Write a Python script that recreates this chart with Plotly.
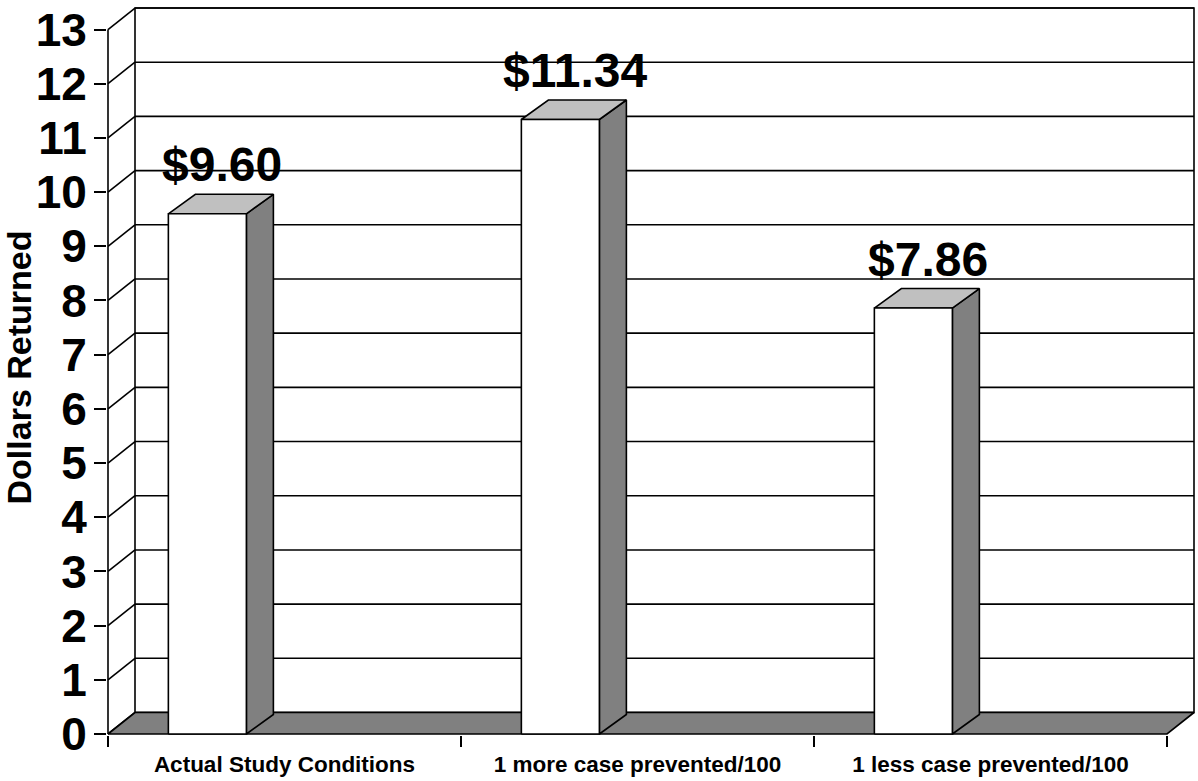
import plotly.graph_objects as go

categories = ["Actual Study Conditions", "1 more case prevented/100", "1 less case prevented/100"]
values = [9.60, 11.34, 7.86]
y_ticks = list(range(0, 14))
y_title = "Dollars Returned"

# --- geometry / style (pixels -> data units) ---
W, H = 1198, 781
CAT_PX = 353.0           # px per category
UNIT_PX = 54.19          # px per dollar
FRONT_X_PX = 108         # front axis pixel
FRONT_Y_PX = 734         # value 0 pixel
DX = 27 / CAT_PX         # wall depth offset (x)
DY = 21.5 / UNIT_PX      # wall depth offset (y)
BDX = 27 / CAT_PX        # bar depth offset
BDY = 19.5 / UNIT_PX
BAR_L = 0.171
BAR_W = 0.221
YMAX = 13
NCAT = len(categories)

FONT = "Liberation Sans, Arial, sans-serif"
LW = 1.6
DARK = "#808080"
LIGHT = "#c0c0c0"

ml, mr = FRONT_X_PX - 1, 2
mt, mb = 0, H - (FRONT_Y_PX + 1)
x0 = -1 / CAT_PX
x1 = x0 + (W - ml - mr) / CAT_PX
y0 = -1 / UNIT_PX
y1 = y0 + (H - mt - mb) / UNIT_PX

fig = go.Figure()


def poly(xs, ys, fill):
    fig.add_trace(go.Scatter(
        x=xs + [xs[0]], y=ys + [ys[0]], mode="lines", fill="toself",
        fillcolor=fill, line=dict(color="black", width=LW),
        hoverinfo="skip", showlegend=False))


def lines(xs, ys, width=LW):
    fig.add_trace(go.Scatter(
        x=xs, y=ys, mode="lines", line=dict(color="black", width=width),
        hoverinfo="skip", showlegend=False))


# back wall
poly([DX, NCAT + DX, NCAT + DX, DX], [DY, DY, YMAX + DY, YMAX + DY], "white")
# gridlines on back wall and side diagonals
gx, gy = [], []
for k in y_ticks:
    gx += [DX, NCAT + DX, None]
    gy += [k + DY, k + DY, None]
    gx += [0, DX, None]
    gy += [k, k + DY, None]
lines(gx, gy)
# floor
poly([0, NCAT, NCAT + DX, DX], [0, 0, DY, DY], DARK)
# front value axis line
lines([0, 0], [0, YMAX])

# bars
for i, v in enumerate(values):
    l = i + BAR_L
    r = l + BAR_W
    poly([r, r + BDX, r + BDX, r], [0, BDY, v + BDY, v], DARK)          # side
    poly([l, r, r + BDX, l + BDX], [v, v, v + BDY, v + BDY], LIGHT)      # top
    poly([l, r, r, l], [0, 0, v, v], "white")                              # front
    fig.add_annotation(
        x=l + BAR_W / 2 + BDX / 2 + 0.004, y=v + BDY, xref="x", yref="y",
        text=f"${v:.2f}", showarrow=False, yanchor="bottom", yshift=1,
        font=dict(family=FONT, size=48, color="black", weight="bold"))

fig.update_layout(
    width=W, height=H,
    margin=dict(l=ml, r=mr, t=mt, b=mb, autoexpand=False),
    paper_bgcolor="white", plot_bgcolor="white",
    showlegend=False,
    xaxis=dict(
        range=[x0, x1], showgrid=False, zeroline=False, showline=False,
        tickmode="array", tickvals=[i + 0.5 for i in range(NCAT)], ticktext=categories,
        ticks="", ticklabelstandoff=13,
        tickfont=dict(family=FONT, size=22.5, color="black", weight="bold"),
        minor=dict(tickmode="array", tickvals=list(range(NCAT + 1)), ticks="outside",
                   ticklen=11, tickwidth=LW, tickcolor="black", showgrid=False),
        fixedrange=True,
    ),
    yaxis=dict(
        range=[y0, y1], showgrid=False, zeroline=False, showline=False,
        tickmode="array", tickvals=y_ticks, ticktext=[str(t) for t in y_ticks],
        ticks="outside", ticklen=12, tickwidth=LW, tickcolor="black",
        ticklabelstandoff=-2,
        tickfont=dict(family=FONT, size=46, color="black", weight="bold"),
        title=dict(text=y_title, standoff=4,
                   font=dict(family=FONT, size=34, color="black", weight="bold")),
        fixedrange=True,
    ),
)

fig.write_html("out.html")
